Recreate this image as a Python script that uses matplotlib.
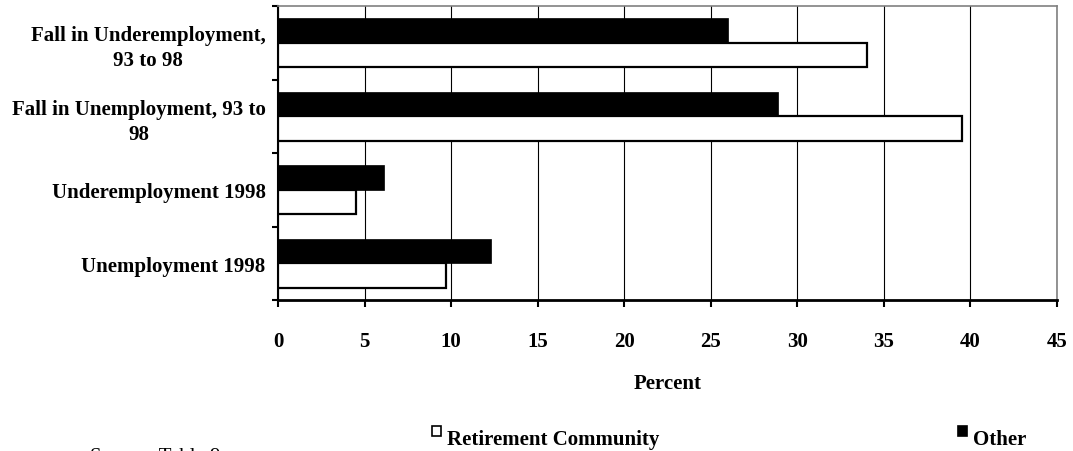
import numpy as np
import matplotlib
matplotlib.use('Agg')
import matplotlib.pyplot as plt
from matplotlib.patches import Rectangle

# categories top to bottom
categories = ['Fall in Underemployment,\n93 to 98',
              'Fall in Unemployment, 93 to\n98',
              'Underemployment 1998',
              'Unemployment 1998']
other = [26.0, 28.9, 6.1, 12.3]
retirement = [34.0, 39.5, 4.5, 9.7]
xticks = [0, 5, 10, 15, 20, 25, 30, 35, 40, 45]

plt.rcParams['font.family'] = ['Liberation Serif', 'DejaVu Serif']

fig = plt.figure(figsize=(10.73, 4.52), dpi=100)
ax = fig.add_axes([278 / 1073, 1 - 301 / 452, (1057 - 278) / 1073, (301 - 7) / 452])

pos = np.arange(len(categories))
h = 0.33
ax.barh(pos - h / 2, other, height=h, color='black', edgecolor='black', linewidth=0.5, zorder=3)
ax.barh(pos + h / 2, retirement, height=h, color='white', edgecolor='black', linewidth=1.6, zorder=3)

ax.set_xlim(0, 45)
ax.set_ylim(len(categories) - 0.5, -0.5)
ax.set_xticks(xticks)
ax.set_xticklabels([str(t) for t in xticks], fontsize=15, fontweight='bold')
ax.xaxis.grid(True, color='black', linewidth=0.8, zorder=0)
ax.set_axisbelow(True)

# category boundaries as ticks, labels in the middle
ax.set_yticks(np.arange(len(categories) + 1) - 0.5)
ax.set_yticklabels([])
ax.set_yticks(pos, minor=True)
ax.set_yticklabels(categories, minor=True, fontsize=15, fontweight='bold',
                   multialignment='center', linespacing=1.35)
ax.tick_params(axis='y', which='minor', length=0, pad=9)
ax.tick_params(axis='y', which='major', length=4, width=1.5, direction='out')
ax.tick_params(axis='x', length=5, width=1.5, direction='out', pad=17.5)

ax.set_xlabel('Percent', fontsize=15, fontweight='bold', labelpad=16)

for s in ['top', 'right']:
    ax.spines[s].set_color('#808080')
    ax.spines[s].set_linewidth(1.2)
ax.spines['left'].set_linewidth(1.5)
ax.spines['bottom'].set_linewidth(2)

# legend
fig.patches.append(Rectangle((432 / 1073, 1 - 437 / 452), 9 / 1073, 10 / 452,
                             transform=fig.transFigure, facecolor='white', edgecolor='black', linewidth=1.2))
fig.text(447 / 1073, 1 - 445 / 452, 'Retirement Community', fontsize=15, fontweight='bold', va='baseline')
fig.patches.append(Rectangle((958 / 1073, 1 - 437 / 452), 9 / 1073, 10 / 452,
                             transform=fig.transFigure, facecolor='black', edgecolor='black', linewidth=1.2))
fig.text(973 / 1073, 1 - 445 / 452, 'Other', fontsize=15, fontweight='bold', va='baseline')

fig.text(90 / 1073, -10 / 452, 'Source: Table 9', fontsize=15, va='baseline')

fig.savefig('out.png', dpi=100)
